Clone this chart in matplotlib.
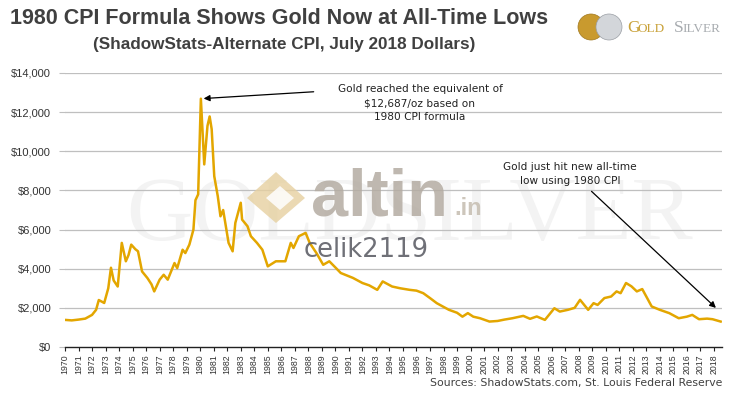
import matplotlib
matplotlib.use("Agg")
import matplotlib.pyplot as plt
from matplotlib.patches import Ellipse, Polygon
from matplotlib import font_manager as fm

years = [1970.0, 1970.5, 1971.0, 1971.5, 1972.0, 1972.3, 1972.5, 1972.9, 1973.2, 1973.4,
         1973.6, 1973.9, 1974.2, 1974.5, 1974.7, 1974.9, 1975.2, 1975.4, 1975.7, 1976.1,
         1976.4, 1976.6, 1977.0, 1977.3, 1977.6, 1978.1, 1978.3, 1978.7, 1978.9, 1979.2,
         1979.5, 1979.65, 1979.85, 1980.05, 1980.3, 1980.54, 1980.7, 1980.85, 1981.04, 1981.3,
         1981.5, 1981.7, 1982.1, 1982.4, 1982.6, 1983.0, 1983.1, 1983.5, 1983.75, 1984.2,
         1984.6, 1985.0, 1985.6, 1986.3, 1986.7, 1986.9, 1987.3, 1987.8, 1988.1, 1988.6,
         1989.1, 1989.55, 1990.05, 1990.4, 1991.3, 1992.0, 1992.5, 1993.1, 1993.5, 1994.2,
         1994.8, 1995.5, 1996.0, 1996.5, 1997.0, 1997.5, 1998.0, 1998.4, 1999.0, 1999.4,
         1999.8, 2000.2, 2000.7, 2001.4, 2002.0, 2002.5, 2003.1, 2003.9, 2004.4, 2004.9,
         2005.5, 2006.2, 2006.6, 2007.2, 2007.7, 2008.1, 2008.7, 2009.1, 2009.4, 2009.9,
         2010.4, 2010.8, 2011.1, 2011.5, 2011.9, 2012.3, 2012.7, 2013.0, 2013.4, 2014.0,
         2014.7, 2015.4, 2016.0, 2016.4, 2016.9, 2017.5, 2017.9, 2018.5]
values = [1385, 1360, 1400, 1450, 1640, 1900, 2400, 2250, 3000, 4050,
          3400, 3090, 5320, 4380, 4700, 5230, 5000, 4890, 3860, 3520,
          3200, 2840, 3440, 3690, 3440, 4290, 4030, 4970, 4800, 5230,
          6000, 7500, 7800, 12687, 9330, 11300, 11780, 11130, 8730, 7710,
          6680, 7000, 5320, 4890, 6340, 7370, 6510, 6170, 5660, 5320,
          4970, 4120, 4380, 4380, 5320, 5060, 5660, 5830, 5320, 4800,
          4200, 4380, 4030, 3780, 3530, 3270, 3150, 2920, 3350, 3090,
          3000, 2920, 2880, 2750, 2500, 2240, 2050, 1900, 1750, 1550,
          1730, 1550, 1470, 1300, 1330, 1400, 1470, 1590, 1440, 1560,
          1385, 1980, 1810, 1900, 2000, 2410, 1900, 2240, 2150, 2500,
          2580, 2840, 2750, 3270, 3100, 2840, 2960, 2580, 2070, 1900,
          1730, 1470, 1550, 1640, 1420, 1450, 1420, 1300]

y_ticks = [0, 2000, 4000, 6000, 8000, 10000, 12000, 14000]
y_labels = ["$0", "$2,000", "$4,000", "$6,000", "$8,000", "$10,000", "$12,000", "$14,000"]
x_years = list(range(1970, 2019))

title = "1980 CPI Formula Shows Gold Now at All-Time Lows"
subtitle = "(ShadowStats-Alternate CPI, July 2018 Dollars)"
note_peak = "Gold reached the equivalent of\n$12,687/oz based on\n1980 CPI formula"
note_low = "Gold just hit new all-time\nlow using 1980 CPI"
source = "Sources: ShadowStats.com, St. Louis Federal Reserve"

W, H = 737, 396
fig = plt.figure(figsize=(W / 100, H / 100), dpi=100)
fig.patch.set_facecolor("white")


def fx(px):
    return px / W


def fy(py):
    return 1 - py / H


names = {f.name for f in fm.fontManager.ttflist}
narrow = "Liberation Sans Narrow" if "Liberation Sans Narrow" in names else None

ax = fig.add_axes([fx(65), fy(347), fx(722) - fx(65), fy(73) - fy(347)])
ax.set_xlim(1970, 2018.6)
ax.set_ylim(0, 14000)
ax.set_zorder(2)
ax.patch.set_alpha(0)

# faint background watermark
fig.text(fx(410), fy(218), "GOLDSILVER", ha="center", va="center", fontsize=66,
         color="#f3f3f3", family="Liberation Serif", zorder=0)

for t in y_ticks[1:]:
    ax.axhline(t, color="#bfbfbf", lw=0.9, zorder=1)

ax.plot(years, values, color="#E3A600", lw=1.8, zorder=3, solid_joinstyle="round")

for s in ["top", "right", "left"]:
    ax.spines[s].set_visible(False)
ax.spines["bottom"].set_color("#222222")
ax.spines["bottom"].set_linewidth(1.0)

ax.set_yticks(y_ticks)
ax.set_yticklabels(y_labels, fontsize=8, color="#333333", family="Liberation Sans")
ax.tick_params(axis="y", length=4, color="#bfbfbf", pad=6)

ax.set_xticks(x_years)
ax.set_xticklabels([str(y) for y in x_years], rotation=90, fontsize=6.3,
                   color="#333333", family="Liberation Sans")
ax.tick_params(axis="x", length=3, color="#222222", pad=2)

# annotations
ax.annotate("", xy=(1980.05, 12687), xytext=(1988.6, 13050),
            arrowprops=dict(arrowstyle="-|>", color="black", lw=0.9,
                            mutation_scale=9), zorder=5)
fig.text(fx(420), fy(103), note_peak, ha="center", va="center", fontsize=7.6,
         color="#222222", linespacing=1.45, family="DejaVu Sans")
ax.annotate("", xy=(2018.3, 1900), xytext=(2008.8, 8050),
            arrowprops=dict(arrowstyle="-|>", color="black", lw=0.9,
                            mutation_scale=9), zorder=5)
fig.text(fx(570), fy(174), note_low, ha="center", va="center", fontsize=7.6,
         color="#222222", linespacing=1.45, family="DejaVu Sans")

# overlay watermark (altin.in / celik2119)
fig.add_artist(Polygon([[fx(247), fy(198)], [fx(276), fy(172)], [fx(305), fy(198)],
                        [fx(276), fy(223)]], closed=True, facecolor="#e6d0a0",
                       edgecolor="none", alpha=0.8, zorder=4))
fig.add_artist(Polygon([[fx(266), fy(198)], [fx(280), fy(186)], [fx(294), fy(198)],
                        [fx(280), fy(210)]], closed=True, facecolor="white",
                       edgecolor="none", alpha=0.85, zorder=4))
fig.text(fx(311), fy(215), "altin", ha="left", va="baseline", fontsize=48,
         fontweight="bold", color="#b4aca2", alpha=0.85, family="Liberation Sans", zorder=4)
fig.text(fx(454), fy(215), ".in", ha="left", va="baseline", fontsize=17,
         fontweight="bold", color="#c8c0b4", alpha=0.9, family="Liberation Sans", zorder=4)
fig.text(fx(304), fy(250), "celik2119", ha="left", va="center", fontsize=18.5,
         color="#5f6068", alpha=0.9, family="DejaVu Sans", zorder=4)

# title
if narrow:
    tfam = [narrow]
    tsize, ssize = 19, 14.5
    tstretch = "normal"
else:
    tfam = ["Liberation Sans"]
    tsize, ssize = 15.5, 12.3
    tstretch = "condensed"
fig.text(fx(10), fy(18), title, ha="left", va="center", fontsize=tsize,
         fontweight="bold", color="#404040", family=tfam, fontstretch=tstretch)
fig.text(fx(284), fy(44), subtitle, ha="center", va="center", fontsize=ssize,
         fontweight="bold", color="#404040", family=tfam, fontstretch=tstretch)

# logo
fig.add_artist(Ellipse((fx(591), fy(27)), 26 / W, 26 / H, facecolor="#c99a2e",
                       edgecolor="#a07820", lw=0.5))
fig.add_artist(Ellipse((fx(609), fy(27)), 26 / W, 26 / H, facecolor="#d3d6da",
                       edgecolor="#9a9ea4", lw=0.5))
fig.text(fx(627), fy(28), "G", ha="left", va="center", fontsize=12.5,
         color="#c9a23a", family="Liberation Serif")
fig.text(fx(638), fy(29), "OLD", ha="left", va="center", fontsize=9.5,
         color="#c9a23a", family="Liberation Serif")
fig.text(fx(674), fy(28), "S", ha="left", va="center", fontsize=12.5,
         color="#a8acb0", family="Liberation Serif")
fig.text(fx(682), fy(29), "ILVER", ha="left", va="center", fontsize=9.5,
         color="#a8acb0", family="Liberation Serif")

fig.text(fx(722), fy(383), source, ha="right", va="center", fontsize=7.8,
         color="#404040", family="DejaVu Sans")

fig.savefig("out.png", dpi=100)
